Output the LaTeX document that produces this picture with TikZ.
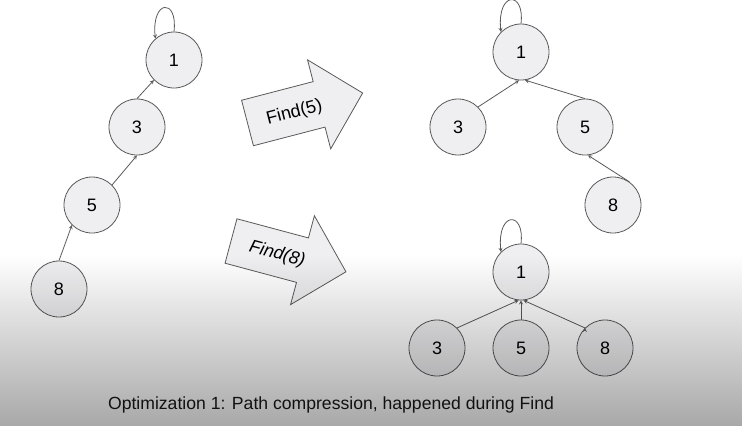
\documentclass[tikz,border=0pt]{standalone}
\usepackage{fontspec}
\setmainfont{Liberation Sans}
\usetikzlibrary{fadings}
\definecolor{nodefill}{HTML}{EFEFF1}
\definecolor{linegray}{HTML}{5A5A5A}

\begin{document}
\begin{tikzpicture}[->,>=stealth,x=1pt,y=1pt,node distance=76pt,line width=0.8pt,draw=linegray,
    main node/.style={circle,draw=linegray,fill=nodefill,minimum size=56pt,inner sep=0pt,font=\fontsize{18}{21}\selectfont},
    big arrow/.style={-,draw=linegray,fill=nodefill,line width=0.8pt},
    arrow text/.style={font=\fontsize{18}{21}\selectfont}]
                \useasboundingbox (0,0) rectangle (743,-426);
                \fill[white] (0,0) rectangle (743,-426);

                % before Find: a chain
                \node [main node](a1) at (174,-60) {1};
                \node [main node](a3) [below of=a1, xshift=-37, yshift=9]{3};
                \node [main node](a5) [below of=a3, xshift=-45, yshift=-2]{5};
                \node [main node](a8) [below of=a5, xshift=-33, yshift=-8]{8};

                % after Find(5)
                \node [main node](b1) at (521,-52) {1};
                \node [main node](b3) [below of=b1, xshift=-63, yshift=1]{3};
                \node [main node](b5) [below of=b1, xshift=64, yshift=1]{5};
                \node [main node](b8) [below of=b5, xshift=28, yshift=-2]{8};

                % after Find(8)
                \node [main node](c1) at (521,-272) {1};
                \node [main node](c5) [below of=c1]{5};
                \node [main node](c3) [left of=c5, xshift=-8]{3};
                \node [main node](c8) [right of=c5, xshift=8]{8};

                \path[draw=linegray]
                    (a8.north) edge (a5.225)
                    (a5.45) edge (a3.south)
                    (a3.north) edge (a1.225)

                    (b3.45) edge (b1.-94)
                    (b5.north) edge (b1.-82)
                    (b8.55) edge (b5.-84)

                    (c3.45) edge (c1.-95)
                    (c5.north) edge (c1.south)
                    (c8.135) edge (c1.-85)
                    ;

                \draw (a1.north) .. controls +(4,34) and +(-4,39) .. (a1.131);
                \draw (b1.north) .. controls +(4,33) and +(-4,41) .. (b1.135);
                \draw (c1.north) .. controls +(4,33) and +(-4,41) .. (c1.135);

                % block arrows
                \begin{scope}[shift={(247.5,-123)},rotate=14.6]
                    \filldraw[big arrow] (0,23.5) -- (74,23.5) -- (74,46) -- (119,0) -- (74,-46) -- (74,-23.5) -- (0,-23.5) -- cycle;
                    \node[arrow text, rotate=14.6] (find5) at (48,-2) {Find(5)};
                \end{scope}
                \begin{scope}[shift={(231,-241)},rotate=-15]
                    \filldraw[big arrow] (0,23) -- (74,23) -- (74,46) -- (119,0) -- (74,-46) -- (74,-23) -- (0,-23) -- cycle;
                    \node[arrow text, rotate=-15] (find8) at (48,-1) {\itshape Find(8)};
                \end{scope}

                \node[font=\fontsize{17.6}{20}\selectfont, text=black!90] (caption) at (331,-405) {Optimization 1: Path compression, happened during Find};

                % grey shade over the bottom
                \fill[black, opacity=0.34, path fading=north] (0,-255) rectangle (743,-426);
\end{tikzpicture}
\end{document}
